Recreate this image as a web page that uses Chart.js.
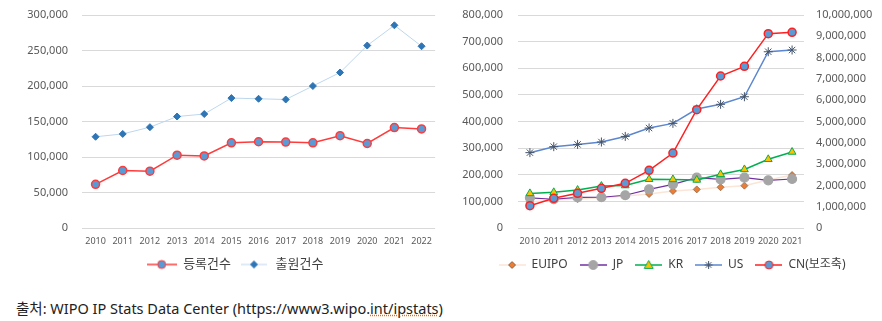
<!DOCTYPE html>
<html>
<head>
<meta charset="utf-8">
<script src="https://cdn.jsdelivr.net/npm/chart.js@4/dist/chart.umd.min.js"></script>
<style>
  body { margin: 0; background: #fff; width: 882px; height: 321px; overflow: hidden; position: relative; }
  #left { position: absolute; left: 0; top: 0; width: 440px; height: 285px; }
  #right { position: absolute; left: 440px; top: 0; width: 442px; height: 285px; }
  #src { position: absolute; left: 16px; top: 297px; font: 14.5px "Noto Sans", "Noto Sans CJK KR", sans-serif; color: #222; white-space: nowrap; }
  #src span { text-decoration: underline dotted #e07020; }
</style>
</head>
<body>
<div id="left"><canvas id="lineChart"></canvas></div>
<div id="right"><canvas id="multiChart"></canvas></div>
<div id="src">출처: WIPO IP Stats Data Center (https://www3.wipo.<span>int/ipstats</span>)</div>
<script>
// left chart
const years1 = ["2010", "2011", "2012", "2013", "2014", "2015", "2016", "2017", "2018", "2019", "2020", "2021", "2022"];
const registrations = [61500, 81000, 80000, 102500, 101500, 120000, 121500, 121000, 120000, 130000, 119000, 141500, 139500];
const applications = [128500, 132500, 142000, 157000, 160500, 183000, 182000, 181000, 200000, 219000, 257000, 285500, 256000];

// right chart
const years2 = ["2010", "2011", "2012", "2013", "2014", "2015", "2016", "2017", "2018", "2019", "2020", "2021"];
const euipo = [98000, 105000, 109000, 114000, 120000, 127500, 139000, 145000, 153000, 159000, 180000, 199000];
const jp = [113500, 108000, 115000, 115500, 123000, 145000, 164000, 189000, 183000, 189000, 179000, 184000];
const kr = [130000, 134000, 142500, 157500, 159500, 183000, 182500, 180500, 201500, 220000, 258000, 285500];
const us = [283000, 305500, 314000, 323000, 344000, 375500, 393000, 447000, 464500, 493000, 662000, 668500];
const cn = [1048000, 1393000, 1628000, 1862000, 2097000, 2707000, 3521000, 5555000, 7136000, 7590000, 9123000, 9186000];

const FONT = "'Noto Sans', 'Noto Sans CJK KR', sans-serif";
const GRAY = "#595959";
const GRID = "#d9d9d9";

// legend icon: line + marker
function icon(w, line, lw, style, r, fill, stroke) {
  const c = document.createElement("canvas");
  c.width = w; c.height = 14;
  const g = c.getContext("2d");
  g.strokeStyle = line; g.lineWidth = lw;
  g.beginPath(); g.moveTo(0, 7); g.lineTo(w, 7); g.stroke();
  const x = w / 2, y = 7;
  g.fillStyle = fill; g.strokeStyle = stroke; g.lineWidth = 1;
  g.beginPath();
  if (style === "circle") {
    g.arc(x, y, r, 0, Math.PI * 2);
  } else if (style === "rectRot") {
    g.moveTo(x, y - r); g.lineTo(x + r, y); g.lineTo(x, y + r); g.lineTo(x - r, y); g.closePath();
  } else if (style === "triangle") {
    g.moveTo(x, y - r); g.lineTo(x + r, y + r * 0.75); g.lineTo(x - r, y + r * 0.75); g.closePath();
  } else if (style === "star") {
    g.moveTo(x - r, y); g.lineTo(x + r, y);
    g.moveTo(x, y - r); g.lineTo(x, y + r);
    g.moveTo(x - r * 0.7, y - r * 0.7); g.lineTo(x + r * 0.7, y + r * 0.7);
    g.moveTo(x + r * 0.7, y - r * 0.7); g.lineTo(x - r * 0.7, y + r * 0.7);
    g.stroke();
    return c;
  }
  g.fill(); g.stroke();
  return c;
}

function legendLabels(icons) {
  return function (chart) {
    return chart.data.datasets.map((ds, i) => ({
      text: ds.label,
      pointStyle: icons[i],
      datasetIndex: i,
      hidden: false,
      lineWidth: 0,
      fillStyle: "transparent",
      strokeStyle: "transparent",
      fontColor: "#404040",
    }));
  };
}

// nudge the legend sideways so it sits where the original one does
function shiftLegend(dx) {
  return {
    id: "shiftLegend",
    afterUpdate(chart) {
      chart.legend.left += dx;
      chart.legend.right += dx;
    },
  };
}

// fixed axis width, and no extra room above the top tick
function fixWidth(w) {
  return function (s) {
    s.width = w;
    s.paddingTop = 0;
  };
}

const leftIcons = [
  icon(30, "#ff3b3b", 1.5, "circle", 4, "#5b9bd5", "#ff3b3b"),
  icon(26, "#bdd7ee", 1, "rectRot", 3.5, "#2e75b6", "#2e75b6"),
];

const lineChart = document.querySelector("#lineChart");
const graph1 = new Chart(lineChart, {
  type: "line",
  data: {
    labels: years1,
    datasets: [
      {
        label: "등록건수",
        data: registrations,
        borderColor: "#ff3b3b",
        borderWidth: 1.5,
        backgroundColor: "#5b9bd5",
        pointBackgroundColor: "#5b9bd5",
        pointBorderColor: "#ff3b3b",
        pointBorderWidth: 1.5,
        pointRadius: 4,
        pointStyle: "circle",
      },
      {
        label: "출원건수",
        data: applications,
        borderColor: "#bdd7ee",
        borderWidth: 1,
        pointBackgroundColor: "#2e75b6",
        pointBorderColor: "#2e75b6",
        pointBorderWidth: 1,
        pointRadius: 3.5,
        pointStyle: "rectRot",
      },
    ],
  },
  plugins: [shiftLegend(7)],
  options: {
    responsive: true,
    maintainAspectRatio: false,
    animation: false,
    layout: { autoPadding: false, padding: { left: 20, right: 4, top: 15, bottom: 4 } },
    scales: {
      x: {
        offset: true,
        grid: { display: false, drawTicks: false },
        border: { display: false },
        ticks: { color: GRAY, font: { family: FONT, size: 9 }, padding: 8, autoSkip: false, maxRotation: 0, minRotation: 0 },
        afterFit(s) { s.height = 22; },
      },
      y: {
        min: 0,
        max: 300000,
        grid: { color: GRID, drawTicks: false },
        border: { display: false },
        ticks: {
          stepSize: 50000,
          padding: 14,
          color: GRAY,
          font: { family: FONT, size: 11 },
          callback: (v) => v.toLocaleString("en-US"),
        },
        afterFit: fixWidth(62),
      },
    },
    plugins: {
      tooltip: { enabled: false },
      legend: {
        position: "bottom",
        labels: {
          usePointStyle: true,
          pointStyleWidth: 30,
          boxHeight: 12,
          padding: 8,
          font: { family: FONT, size: 13 },
          generateLabels: legendLabels(leftIcons),
        },
      },
    },
  },
});

const rightIcons = [
  icon(27, "#fbe5d6", 1.5, "rectRot", 3.5, "#ed7d31", "#8a6a55"),
  icon(27, "#7030a0", 1.5, "circle", 4.5, "#a5a5a5", "#a5a5a5"),
  icon(27, "#00b050", 1.5, "triangle", 4.5, "#ffc000", "#00b050"),
  icon(27, "#5b86d0", 1.5, "star", 4, "#44546a", "#44546a"),
  icon(27, "#ff2020", 1.5, "circle", 4, "#5b9bd5", "#ff2020"),
];

const multiChart = document.querySelector("#multiChart");
const graph2 = new Chart(multiChart, {
  type: "line",
  data: {
    labels: years2,
    datasets: [
      {
        label: "EUIPO",
        data: euipo,
        yAxisID: "y",
        order: 4,
        borderColor: "#fbe5d6",
        borderWidth: 1.5,
        pointBackgroundColor: "#ed7d31",
        pointBorderColor: "#8a6a55",
        pointBorderWidth: 0.8,
        pointRadius: 3.5,
        pointStyle: "rectRot",
      },
      {
        label: "JP",
        data: jp,
        yAxisID: "y",
        order: 3,
        borderColor: "#7030a0",
        borderWidth: 1.2,
        pointBackgroundColor: "#a5a5a5",
        pointBorderColor: "#a5a5a5",
        pointRadius: 4.5,
        pointStyle: "circle",
      },
      {
        label: "KR",
        data: kr,
        yAxisID: "y",
        order: 1,
        borderColor: "#00b050",
        borderWidth: 1.5,
        pointBackgroundColor: "#ffc000",
        pointBorderColor: "#00b050",
        pointBorderWidth: 1,
        pointRadius: 4.5,
        pointStyle: "triangle",
      },
      {
        label: "US",
        data: us,
        yAxisID: "y",
        order: 2,
        borderColor: "#5b86d0",
        borderWidth: 1.5,
        pointBorderColor: "#44546a",
        pointBackgroundColor: "#44546a",
        pointBorderWidth: 1,
        pointRadius: 4.5,
        pointStyle: "star",
      },
      {
        label: "CN(보조축)",
        data: cn,
        yAxisID: "y2",
        order: 0,
        borderColor: "#ff2020",
        borderWidth: 1.5,
        pointBackgroundColor: "#5b9bd5",
        pointBorderColor: "#ff2020",
        pointBorderWidth: 1.5,
        pointRadius: 4,
        pointStyle: "circle",
      },
    ],
  },
  plugins: [shiftLegend(3.5)],
  options: {
    responsive: true,
    maintainAspectRatio: false,
    animation: false,
    layout: { autoPadding: false, padding: { left: 15, right: 0, top: 15, bottom: 4 } },
    scales: {
      x: {
        offset: true,
        grid: { display: false, drawTicks: false },
        border: { display: false },
        ticks: { color: GRAY, font: { family: FONT, size: 9 }, padding: 8, autoSkip: false, maxRotation: 0, minRotation: 0 },
        afterFit(s) { s.height = 19; },
      },
      y: {
        position: "left",
        min: 0,
        max: 800000,
        grid: { color: GRID, drawTicks: false },
        border: { display: false },
        ticks: {
          stepSize: 100000,
          padding: 15,
          color: GRAY,
          font: { family: FONT, size: 11 },
          callback: (v) => v.toLocaleString("en-US"),
        },
        afterFit: fixWidth(63),
      },
      y2: {
        position: "right",
        min: 0,
        max: 10000000,
        grid: { display: false, drawTicks: false },
        border: { display: false },
        ticks: {
          stepSize: 1000000,
          padding: 12,
          color: GRAY,
          font: { family: FONT, size: 11 },
          callback: (v) => v.toLocaleString("en-US"),
        },
        afterFit: fixWidth(78),
      },
    },
    plugins: {
      tooltip: { enabled: false },
      legend: {
        position: "bottom",
        labels: {
          usePointStyle: true,
          pointStyleWidth: 27,
          boxHeight: 12,
          padding: 12,
          font: { family: FONT, size: 12 },
          generateLabels: legendLabels(rightIcons),
        },
      },
    },
  },
});
</script>
</body>
</html>
